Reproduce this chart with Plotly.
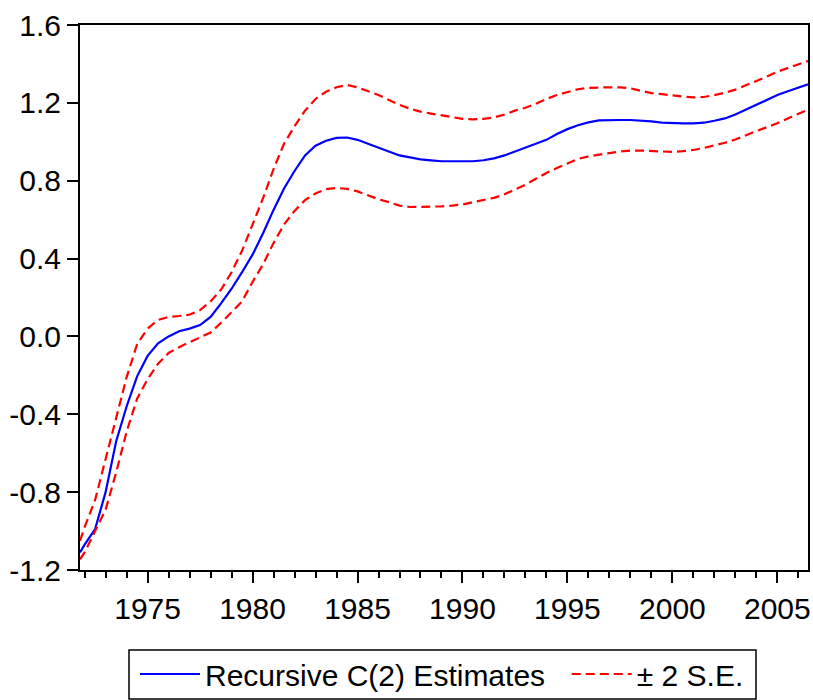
import plotly.graph_objects as go

years = [1971.78, 1972.0, 1972.5, 1973.0, 1973.5, 1974.0, 1974.5, 1975.0, 1975.5, 1976.0,
         1976.5, 1977.0, 1977.5, 1978.0, 1978.5, 1979.0, 1979.5, 1980.0, 1980.5, 1981.0,
         1981.5, 1982.0, 1982.5, 1983.0, 1983.5, 1984.0, 1984.5, 1985.0, 1985.5, 1986.0,
         1986.5, 1987.0, 1987.5, 1988.0, 1988.5, 1989.0, 1989.5, 1990.0, 1990.5, 1991.0,
         1991.5, 1992.0, 1992.5, 1993.0, 1993.5, 1994.0, 1994.5, 1995.0, 1995.5, 1996.0,
         1996.5, 1997.0, 1997.5, 1998.0, 1998.5, 1999.0, 1999.5, 2000.0, 2000.5, 2001.0,
         2001.5, 2002.0, 2002.5, 2003.0, 2003.5, 2004.0, 2004.5, 2005.0, 2005.5, 2006.0,
         2006.46]

estimate = [-1.11, -1.07, -0.99, -0.80, -0.54, -0.36, -0.205, -0.10, -0.035, 0.0,
            0.027, 0.04, 0.058, 0.10, 0.17, 0.245, 0.33, 0.42, 0.53, 0.65,
            0.76, 0.85, 0.93, 0.98, 1.005, 1.02, 1.022, 1.01, 0.99, 0.97,
            0.95, 0.93, 0.92, 0.91, 0.905, 0.90, 0.90, 0.90, 0.90, 0.905,
            0.915, 0.93, 0.95, 0.97, 0.99, 1.01, 1.04, 1.065, 1.085, 1.10,
            1.11, 1.112, 1.112, 1.112, 1.11, 1.105, 1.098, 1.095, 1.095, 1.095,
            1.098, 1.108, 1.12, 1.14, 1.165, 1.19, 1.215, 1.24, 1.26, 1.28,
            1.295]

upper = [-1.05, -0.98, -0.84, -0.63, -0.41, -0.21, -0.04, 0.04, 0.085, 0.10,
         0.105, 0.112, 0.135, 0.18, 0.24, 0.33, 0.44, 0.57, 0.71, 0.86,
         0.99, 1.08, 1.16, 1.22, 1.257, 1.28, 1.292, 1.28, 1.262, 1.24,
         1.215, 1.19, 1.17, 1.155, 1.145, 1.135, 1.125, 1.118, 1.115, 1.118,
         1.125, 1.14, 1.16, 1.175, 1.195, 1.22, 1.24, 1.255, 1.27, 1.277,
         1.28, 1.28, 1.28, 1.275, 1.262, 1.25, 1.245, 1.238, 1.232, 1.228,
         1.23, 1.24, 1.252, 1.268, 1.29, 1.31, 1.335, 1.36, 1.38, 1.40,
         1.415]

lower = [-1.145, -1.11, -1.00, -0.89, -0.70, -0.49, -0.32, -0.22, -0.14, -0.085,
         -0.055, -0.03, -0.005, 0.02, 0.07, 0.125, 0.18, 0.28, 0.37, 0.48,
         0.575, 0.645, 0.70, 0.735, 0.757, 0.763, 0.758, 0.745, 0.725, 0.705,
         0.69, 0.672, 0.665, 0.665, 0.665, 0.668, 0.672, 0.678, 0.69, 0.70,
         0.712, 0.73, 0.755, 0.78, 0.81, 0.84, 0.865, 0.89, 0.912, 0.925,
         0.935, 0.942, 0.95, 0.955, 0.955, 0.952, 0.948, 0.948, 0.952, 0.958,
         0.968, 0.98, 0.995, 1.012, 1.035, 1.055, 1.075, 1.095, 1.12, 1.145,
         1.165]

x_tick_vals = [1975, 1980, 1985, 1990, 1995, 2000, 2005]
x_tick_labels = ["1975", "1980", "1985", "1990", "1995", "2000", "2005"]
y_tick_vals = [-1.2, -0.8, -0.4, 0.0, 0.4, 0.8, 1.2, 1.6]
y_tick_labels = ["-1.2", "-0.8", "-0.4", "0.0", "0.4", "0.8", "1.2", "1.6"]
series_names = ["Recursive C(2) Estimates", "\u00b1 2 S.E."]

FONT = "Liberation Sans, Arial, sans-serif"
FS = 30

fig = go.Figure()
fig.add_trace(go.Scatter(x=years, y=estimate, mode="lines",
                         name=series_names[0] + "\u00a0\u00a0",
                         line=dict(color="#0000FF", width=2.2)))
fig.add_trace(go.Scatter(x=years, y=upper, mode="lines", name=series_names[1],
                         line=dict(color="#FF0000", width=2.2, dash="9px,5px")))
fig.add_trace(go.Scatter(x=years, y=lower, mode="lines", name=series_names[1],
                         showlegend=False,
                         line=dict(color="#FF0000", width=2.2, dash="9px,5px")))

fig.update_layout(
    width=813, height=700,
    margin=dict(l=80, r=5, t=25, b=130, autoexpand=False),
    paper_bgcolor="white", plot_bgcolor="white",
    font=dict(family=FONT, size=FS, color="black"),
    showlegend=True,
    legend=dict(orientation="h", x=(135 - 80) / 728, y=(570 - 648) / 545,
                xanchor="left", yanchor="top",
                bordercolor="black", borderwidth=1.5, bgcolor="rgba(0,0,0,0)",
                font=dict(family=FONT, size=FS, color="black"),
                itemwidth=60, tracegroupgap=0),
    shapes=[dict(type="rect", xref="paper", yref="paper",
                 x0=(129 - 80) / 728, x1=(756 - 80) / 728,
                 y0=(570 - 699) / 545, y1=(570 - 650) / 545,
                 line=dict(color="black", width=1.5), fillcolor="rgba(0,0,0,0)",
                 layer="above")],
)
fig.update_layout(legend_borderwidth=0)
fig.update_xaxes(
    range=[1971.78, 2006.46], showgrid=False, zeroline=False, automargin=False,
    showline=True, linecolor="black", linewidth=2, mirror=True,
    tickmode="array", tickvals=x_tick_vals, ticktext=x_tick_labels,
    ticks="outside", ticklen=11, tickwidth=2, tickcolor="black",
    minor=dict(ticks="outside", dtick=1, tick0=1970, ticklen=6, tickwidth=2,
               tickcolor="black", showgrid=False),
    tickfont=dict(family=FONT, size=FS, color="black"),
)
fig.update_yaxes(
    range=[-1.2, 1.6], showgrid=False, zeroline=False, automargin=False,
    showline=True, linecolor="black", linewidth=2, mirror=True,
    tickmode="array", tickvals=y_tick_vals, ticktext=y_tick_labels,
    ticks="outside", ticklen=11, tickwidth=2, tickcolor="black",
    tickfont=dict(family=FONT, size=FS, color="black"),
)

fig.write_html("out.html", config={"displayModeBar": False},
               post_script="document.body.style.margin='0';document.body.style.overflow='hidden';")
